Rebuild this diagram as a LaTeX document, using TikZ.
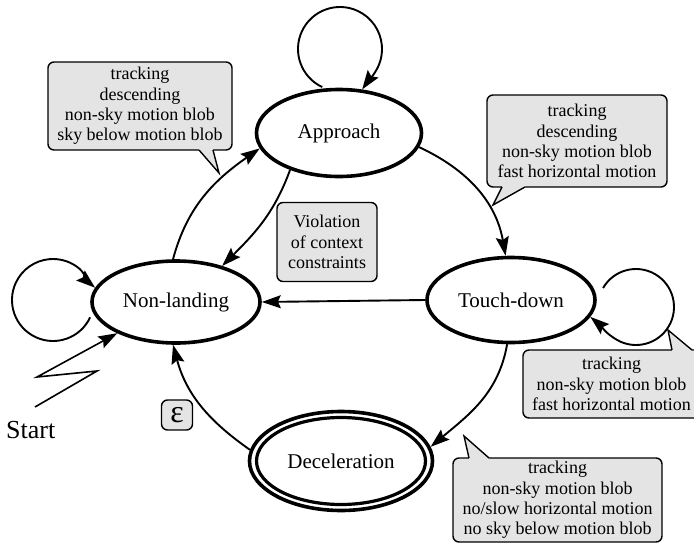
\documentclass[tikz,border=0pt]{standalone}
\usepackage{fontspec}
\setmainfont{Liberation Serif}
\usetikzlibrary{arrows.meta,shapes.geometric,calc}
\definecolor{boxgray}{RGB}{228,228,228}
\begin{document}
\begin{tikzpicture}[x=1pt,y=1pt,
  state/.style={ellipse, draw, line width=3.6pt, fill=white, inner sep=0pt, font=\fontsize{21}{24}\selectfont},
  conn/.style={line width=1.9pt, -{Stealth[length=19pt,width=13pt,inset=3pt]}},
  callout/.style={draw, line width=1.4pt, rounded corners=6pt, fill=boxgray, align=center, inner sep=0pt, font=\fontsize{18}{20.3}\selectfont},
  ptr/.style={line width=1.4pt, line join=miter}]
\useasboundingbox (0,0) rectangle (694,-546);

% states
\node[state, minimum width=165pt, minimum height=87pt] (A) at (339,-133) {Approach};
\node[state, minimum width=168pt, minimum height=82pt] (N) at (176,-302) {Non-landing};
\node[state, minimum width=168pt, minimum height=85pt] (T) at (511,-300) {Touch-down};
\node[state, minimum width=183pt, minimum height=99pt] (D) at (341,-461) {Deceleration};
\draw[line width=3.2pt] (D.center) ellipse[x radius=84.5, y radius=43.5];

% connectors
\draw[conn] (N.94) to[out=75,in=215] (A.191);
\draw[conn] (A.217) to[out=250,in=45] (N.38);
\draw[conn] (A.350) to[out=-25,in=100] (T.97);
\draw[conn] (T.west) -- (N.east);
\draw[conn] (T.265) to[out=-100,in=40] (D.9);
\draw[conn] (D.173) to[out=145,in=-75] (N.266);

% self loops
\coordinate (AL) at (340,-49);
\draw[conn] ($(AL)+(-115:42)$) arc[start angle=-115, end angle=-390, radius=42] to[out=-120,in=55] (A.62);
\coordinate (NL) at (53,-300);
\draw[conn] ($(NL)+(-25:41)$) arc[start angle=-25, end angle=-305, radius=41] to[out=-35,in=140] (N.170);
\coordinate (TL) at (636,-307);
\draw[conn] ($(TL)+(150:38)$) arc[start angle=150, end angle=-120, radius=38] to[out=150,in=-40] (T.-12);

% start
\node[font=\fontsize{26}{30}\selectfont, anchor=west, inner sep=0pt] (S) at (6,-430) {Start};
\draw[conn, line width=1.6pt] (35,-407) -- (97,-371) -- (37,-377) -- (N.208);

% boxes
\node[callout, minimum width=100pt, minimum height=79pt] (V) at (327,-242) {Violation\\of context\\constraints};
\node[callout, minimum width=31pt, minimum height=30pt, font=\fontsize{32}{32}\selectfont] (E) at (177,-415) {\raisebox{1pt}{ε}};

\node[callout, minimum width=184pt, minimum height=88pt] (C1) at (140,-106) {tracking\\descending\\non-sky motion blob\\sky below motion blob};
\fill[boxgray] (199,-147) -- (199,-150) -- (219,-173) -- (213,-150) -- (213,-147) -- cycle;
\draw[ptr] (199,-150) -- (219,-173) -- (213,-150);

\node[callout, minimum width=180pt, minimum height=92pt] (C2) at (577,-141) {tracking\\descending\\non-sky motion blob\\fast horizontal motion};
\fill[boxgray] (502,-184) -- (502,-187) -- (493,-205) -- (525,-187) -- (525,-184) -- cycle;
\draw[ptr] (502,-187) -- (493,-205) -- (525,-187);

\node[callout, minimum width=177pt, minimum height=68pt] (C3) at (611.5,-384) {tracking\\non-sky motion blob\\fast horizontal motion};
\fill[boxgray] (672,-353) -- (672,-350) -- (668,-330) -- (692,-350) -- (692,-353) -- cycle;
\draw[ptr] (672,-350) -- (668,-330) -- (692,-350);

\node[callout, minimum width=209pt, minimum height=84pt] (C4) at (557.5,-500) {tracking\\non-sky motion blob\\no/slow horizontal motion\\no sky below motion blob};
\fill[boxgray] (469,-461) -- (469,-458) -- (464,-436) -- (489,-458) -- (489,-461) -- cycle;
\draw[ptr] (469,-458) -- (464,-436) -- (489,-458);
\end{tikzpicture}
\end{document}
